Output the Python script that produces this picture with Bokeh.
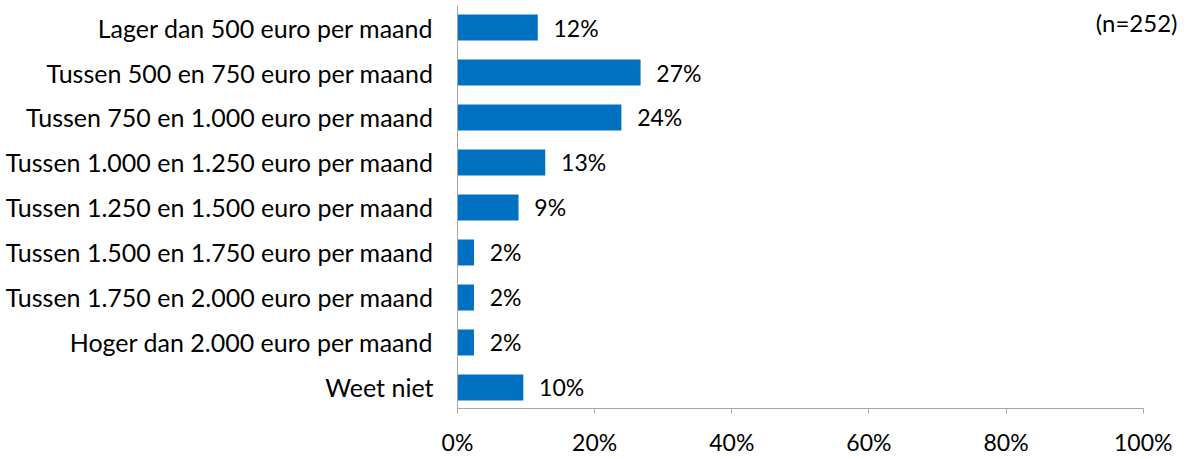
from bokeh.plotting import figure
from bokeh.models import Range1d, ColumnDataSource, Label, FixedTicker
from bokeh.core.properties import value
from bokeh.embed import file_html
from bokeh.resources import INLINE

categories = [
    "Lager dan 500 euro per maand",
    "Tussen 500 en 750 euro per maand",
    "Tussen 750 en 1.000 euro per maand",
    "Tussen 1.000 en 1.250 euro per maand",
    "Tussen 1.250 en 1.500 euro per maand",
    "Tussen 1.500 en 1.750 euro per maand",
    "Tussen 1.750 en 2.000 euro per maand",
    "Hoger dan 2.000 euro per maand",
    "Weet niet",
]
values = [11.7, 26.7, 23.9, 12.8, 8.9, 2.4, 2.4, 2.4, 9.6]
value_labels = ["12%", "27%", "24%", "13%", "9%", "2%", "2%", "2%", "10%"]
x_ticks = [0, 20, 40, 60, 80, 100]
note = "(n=252)"

FONT = "Lato"
pos = list(range(len(categories)))

src = ColumnDataSource(dict(y=pos, v=values, lab=value_labels,
                            lx=[v + 2.3 for v in values]))

p = figure(width=1186, height=458, output_backend="svg", toolbar_location=None,
           x_range=Range1d(0, 105), y_range=Range1d(8.467, -0.489),
           min_border_left=457, min_border_right=9, min_border_top=5,
           min_border_bottom=50)
p.outline_line_color = None
p.xgrid.visible = False
p.ygrid.visible = False

p.hbar(y="y", right="v", left=0, height=0.58, source=src,
       fill_color="#0070C0", line_color=None)
p.text(x="lx", y="y", text="lab", source=src, text_baseline="middle",
       text_align="left", text_font_size="23px", text_color="#000000",
       text_font=value(FONT))

p.xaxis.ticker = FixedTicker(ticks=x_ticks)
p.xaxis.bounds = (0, 100)
p.xaxis.major_label_overrides = {t: f"{t}%" for t in x_ticks}
p.xaxis.minor_tick_line_color = None
p.xaxis.major_tick_in = 0
p.xaxis.major_tick_out = 5
p.xaxis.axis_line_color = "#A6A6A6"
p.xaxis.major_tick_line_color = "#A6A6A6"
p.xaxis.major_label_text_font = FONT
p.xaxis.major_label_text_font_size = "23px"
p.xaxis.major_label_text_color = "#000000"
p.xaxis.major_label_standoff = 14

p.yaxis.ticker = FixedTicker(ticks=pos)
p.yaxis.major_label_overrides = {i: c for i, c in enumerate(categories)}
p.yaxis.minor_tick_line_color = None
p.yaxis.major_tick_in = 0
p.yaxis.major_tick_out = 0
p.yaxis.axis_line_color = "#A6A6A6"
p.yaxis.major_label_text_font = FONT
p.yaxis.major_label_text_font_size = "25px"
p.yaxis.major_label_text_color = "#000000"
p.yaxis.major_label_standoff = 24

p.add_layout(Label(x=105.0, y=-0.12, text=note, text_align="right",
                   text_baseline="middle", text_font=FONT,
                   text_font_size="24px", text_color="#000000"))

open("out.html", "w").write(file_html(p, INLINE))
